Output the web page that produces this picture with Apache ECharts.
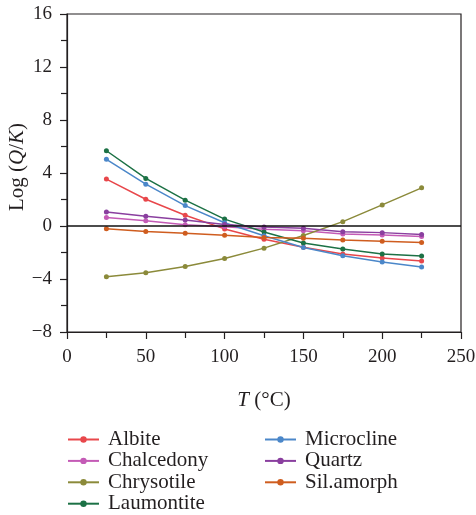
<!DOCTYPE html>
<html>
<head>
<meta charset="utf-8">
<script src="https://cdn.jsdelivr.net/npm/echarts@6/dist/echarts.min.js"></script>
<style>html,body{margin:0;padding:0;background:#fff}#c{width:476px;height:515px}</style>
</head>
<body>
<div id="c"></div>
<script>
const temps = [25, 50, 75, 100, 125, 150, 175, 200, 225];
const albite = [3.54, 2.02, 0.81, -0.22, -1.0, -1.6, -2.12, -2.42, -2.65];
const chalcedony = [0.64, 0.40, 0.10, -0.05, -0.25, -0.35, -0.6, -0.68, -0.8];
const chrysotile = [-3.83, -3.53, -3.05, -2.45, -1.67, -0.72, 0.33, 1.59, 2.88];
const laumontite = [5.68, 3.59, 1.95, 0.52, -0.45, -1.28, -1.74, -2.12, -2.27];
const microcline = [5.03, 3.16, 1.54, 0.25, -0.73, -1.62, -2.24, -2.72, -3.1];
const quartz = [1.05, 0.73, 0.45, 0.12, -0.07, -0.17, -0.43, -0.5, -0.65];
const silAmorph = [-0.21, -0.41, -0.55, -0.69, -0.87, -0.93, -1.06, -1.16, -1.24];

const names = ['Albite','Chalcedony','Chrysotile','Laumontite','Microcline','Quartz','Sil.amorph'];
const values = [albite, chalcedony, chrysotile, laumontite, microcline, quartz, silAmorph];
const colors = ['#e8474b','#c45bb6','#8b8a3a','#1c7145','#4b87c9','#8a3f9f','#cf5d1f'];

const FONT = 'Liberation Serif';
const INK = '#231f20';
const minus = v => String(v).replace('-', '\u2212');

const series = names.map((n, i) => ({
  name: n,
  type: 'line',
  data: temps.map((t, j) => [t, values[i][j]]),
  symbol: 'circle',
  symbolSize: 5,
  lineStyle: { width: 1.5, color: colors[i] },
  itemStyle: { color: colors[i] },
  z: 3
}));
series.push({
  name: 'zero',
  type: 'line',
  data: [],
  markLine: {
    silent: true,
    symbol: 'none',
    label: { show: false },
    lineStyle: { color: '#111', width: 1.5, type: 'solid' },
    data: [{ yAxis: 0 }]
  },
  z: 4
});

const legendCommon = {
  orient: 'vertical',
  height: 200,
  itemWidth: 31,
  itemHeight: 8,
  itemGap: 0.4,
  textStyle: { fontFamily: FONT, fontSize: 21, lineHeight: 21, color: INK, padding: [0,0,0,4] }
};

const chart = echarts.init(document.getElementById('c'), null, { renderer: 'canvas' });
chart.setOption({
  animation: false,
  color: colors,
  grid: { left: 67, right: 15, top: 14, bottom: 183, show: true, borderColor: INK, borderWidth: 1.2,
          containLabel: false, outerBoundsMode: 'none' },
  legend: [
    Object.assign({}, legendCommon, { left: 62, top: 424, data: names.slice(0, 4) }),
    Object.assign({}, legendCommon, { left: 259, top: 424, data: names.slice(4) })
  ],
  xAxis: {
    type: 'value', min: 0, max: 250, interval: 50,
    name: '{i|T} (°C)', nameLocation: 'middle', nameGap: 58, nameMoveOverlap: false,
    nameTextStyle: { fontFamily: FONT, fontSize: 21, color: INK,
      rich: { i: { fontFamily: FONT, fontStyle: 'italic', fontSize: 21, color: INK } } },
    axisLine: { show: true, onZero: false, lineStyle: { color: INK, width: 1.2 } },
    axisTick: { show: true, length: 7, lineStyle: { color: INK, width: 1.2 } },
    minorTick: { show: true, splitNumber: 2, length: 6, lineStyle: { color: INK, width: 1.2 } },
    splitLine: { show: false },
    axisLabel: { fontFamily: FONT, fontSize: 19, color: INK, margin: 16, formatter: minus }
  },
  yAxis: {
    type: 'value', min: -8, max: 16, interval: 4,
    name: 'Log ({i|Q}/{i|K})', nameLocation: 'middle', nameGap: 39, nameMoveOverlap: false,
    nameTextStyle: { fontFamily: FONT, fontSize: 21, color: INK, padding: [0, 0, 0, 12],
      rich: { i: { fontFamily: FONT, fontStyle: 'italic', fontSize: 21, color: INK } } },
    axisLine: { show: true, onZero: false, lineStyle: { color: INK, width: 1.2 } },
    axisTick: { show: true, length: 7, lineStyle: { color: INK, width: 1.2 } },
    minorTick: { show: true, splitNumber: 2, length: 6, lineStyle: { color: INK, width: 1.2 } },
    splitLine: { show: false },
    axisLabel: { fontFamily: FONT, fontSize: 19, color: INK, margin: 15, formatter: minus }
  },
  series: series
});
</script>
</body>
</html>
